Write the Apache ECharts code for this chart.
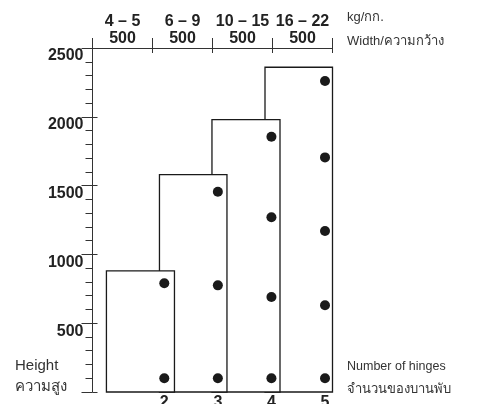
<!DOCTYPE html>
<html>
<head>
<meta charset="utf-8">
<script src="https://cdn.jsdelivr.net/npm/echarts@6/dist/echarts.min.js"></script>
<style>
  html, body { margin: 0; padding: 0; background: #fff; }
  #chart { width: 480px; height: 404px; }
</style>
</head>
<body>
<div id="chart"></div>
<script>
// จำนวนบานพับ (หมวดหมู่ด้านล่าง)
const hinges = [2, 3, 4, 5];
// น้ำหนักบาน / ความกว้าง (แกนบน)
const weightLabels = ['4 – 5', '6 – 9', '10 – 15', '16 – 22'];
const widthLabels = ['500', '500', '500', '500'];
// ความสูงสูงสุดของแต่ละกล่อง
const boxTop = [880, 1580, 1980, 2360];
// ขอบซ้าย/ขวาของกล่อง (หน่วยเดียวกับแกนจำนวนบานพับ)
const boxStart = [0.92, 1.91, 2.89, 3.88];
const boxEnd = [2.19, 3.17, 4.16, 5.14];
// ตำแหน่งบานพับ (ความสูง) ในแต่ละกล่อง
const hingeHeights = [
  [100, 790],
  [100, 775, 1455],
  [100, 690, 1270, 1855],
  [100, 630, 1170, 1705, 2260]
];

const FONT = '"Liberation Sans", "Noto Sans", sans-serif';
const INK = '#222';
const AXIS = '#333';

const chart = echarts.init(document.getElementById('chart'));

const boxData = hinges.map((h, i) => [boxStart[i], boxEnd[i], boxTop[i]]);
const dotData = [];
hinges.forEach((h, i) => {
  hingeHeights[i].forEach(v => dotData.push([h, v]));
});

const boldLabel = { fontFamily: FONT, fontSize: 16, fontWeight: 'bold', color: INK };

const option = {
  animation: false,
  grid: {
    left: 92.5, right: 147.5, top: 48, bottom: 12,
    containLabel: false, outerBoundsMode: 'none'
  },
  xAxis: [
    {
      type: 'value', position: 'bottom', min: 0.66, max: 5.14,
      axisLine: { show: false, onZero: false }, axisTick: { show: false }, splitLine: { show: false },
      axisLabel: Object.assign({ customValues: hinges, margin: 3 }, boldLabel)
    },
    {
      type: 'category', position: 'top', data: weightLabels, boundaryGap: true,
      axisLine: { show: true, onZero: false, lineStyle: { color: AXIS, width: 1 } },
      axisTick: { show: true, length: 10, alignWithLabel: false, lineStyle: { color: AXIS } },
      splitLine: { show: false },
      axisLabel: Object.assign({
        interval: 0, margin: 1, lineHeight: 17,
        formatter: (v, i) => v + '\n' + widthLabels[i]
      }, boldLabel)
    },
    {
      // ขีดสั้นใต้เส้นแกนบน
      type: 'category', position: 'top', data: weightLabels, boundaryGap: true,
      axisLine: { show: false, onZero: false },
      axisTick: { show: true, inside: true, length: 5, alignWithLabel: false, lineStyle: { color: AXIS } },
      axisLabel: { show: false }, splitLine: { show: false }
    }
  ],
  yAxis: [
    {
      type: 'value', position: 'left', min: 0, max: 2500, interval: 500,
      axisLine: { show: true, onZero: false, lineStyle: { color: AXIS, width: 1 } },
      axisTick: { show: true, length: 11, lineStyle: { color: AXIS } },
      minorTick: { show: true, splitNumber: 5, length: 7, lineStyle: { color: AXIS } },
      splitLine: { show: false }, minorSplitLine: { show: false },
      axisLabel: Object.assign({
        margin: 9, verticalAlign: 'top', lineHeight: 16,
        formatter: v => (v === 0 ? '' : String(v))
      }, boldLabel)
    },
    {
      // ขีดหลักยื่นเข้าด้านใน
      type: 'value', position: 'left', min: 0, max: 2500, interval: 500,
      axisLine: { show: false, onZero: false },
      axisTick: { show: true, inside: true, length: 5, lineStyle: { color: AXIS } },
      axisLabel: { show: false }, splitLine: { show: false }
    }
  ],
  series: [
    {
      type: 'custom',
      clip: false,
      xAxisIndex: 0, yAxisIndex: 0,
      data: boxData,
      renderItem(params, api) {
        const p0 = api.coord([api.value(0), api.value(2)]);
        const p1 = api.coord([api.value(1), 0]);
        return {
          type: 'rect',
          z2: 10 - params.dataIndex,
          shape: { x: p0[0], y: p0[1], width: p1[0] - p0[0], height: p1[1] - p0[1] },
          style: { fill: '#fff', stroke: '#1a1a1a', lineWidth: 1.3 }
        };
      }
    },
    {
      type: 'scatter',
      xAxisIndex: 0, yAxisIndex: 0,
      z: 5,
      symbolSize: 10,
      itemStyle: { color: '#1a1a1a', opacity: 1 },
      data: dotData
    }
  ],
  graphic: [
    { type: 'text', x: 15, y: 366, style: { text: 'Height', font: '15px ' + FONT, fill: '#333', verticalAlign: 'middle' } },
    { type: 'text', x: 15, y: 387, style: { text: 'ความสูง', font: '15px ' + FONT, fill: '#333', verticalAlign: 'middle' } },
    { type: 'text', x: 347, y: 17, style: { text: 'kg/กก.', font: '13px ' + FONT, fill: '#333', verticalAlign: 'middle' } },
    { type: 'text', x: 347, y: 41, style: { text: 'Width/ความกว้าง', font: '13px ' + FONT, fill: '#333', verticalAlign: 'middle' } },
    { type: 'text', x: 347, y: 367, style: { text: 'Number of hinges', font: '12.5px ' + FONT, fill: '#333', verticalAlign: 'middle' } },
    { type: 'text', x: 347, y: 389, style: { text: 'จำนวนของบานพับ', font: '13px ' + FONT, fill: '#333', verticalAlign: 'middle' } }
  ]
};

chart.setOption(option);
</script>
</body>
</html>
